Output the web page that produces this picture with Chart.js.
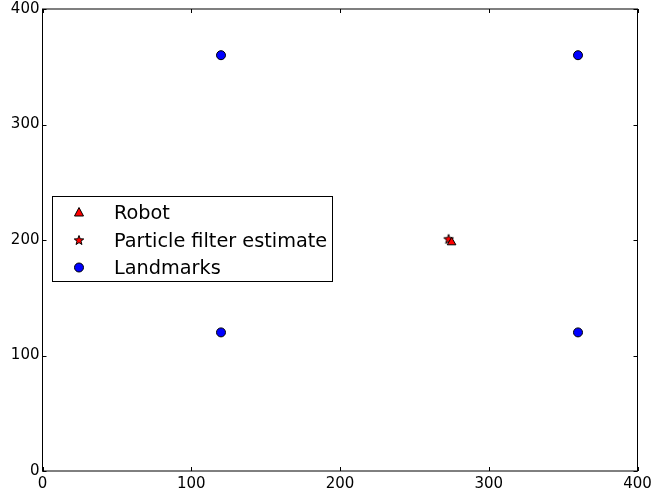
<!DOCTYPE html>
<html>
<head>
<meta charset="utf-8">
<script src="https://cdn.jsdelivr.net/npm/chart.js@4/dist/chart.umd.min.js"></script>
<style>
  html, body { margin: 0; padding: 0; background: #fff; }
  #wrap { width: 655px; height: 494px; }
</style>
</head>
<body>
<div id="wrap"><canvas id="pfChart" width="655" height="494"></canvas></div>
<script>
/* ======================================================
   DATA
====================================================== */

const robotX = [275];
const robotY = [198];
const estimateX = [273];
const estimateY = [201];
const landmarkX = [120, 120, 360, 360];
const landmarkY = [120, 360, 120, 360];
const tickValues = [0, 100, 200, 300, 400];
const legendLabels = ["Robot", "Particle filter estimate", "Landmarks"];

function toPoints(xs, ys) {
  return xs.map((x, i) => ({ x, y: ys[i] }));
}

/* ======================================================
   MARKERS
====================================================== */

function starPath(ctx, cx, cy, rOut, rIn) {
  ctx.beginPath();
  for (let i = 0; i < 10; i++) {
    const r = i % 2 === 0 ? rOut : rIn;
    const a = -Math.PI / 2 + i * Math.PI / 5;
    const px = cx + r * Math.cos(a);
    const py = cy + r * Math.sin(a);
    if (i === 0) ctx.moveTo(px, py); else ctx.lineTo(px, py);
  }
  ctx.closePath();
}

function makeStar() {
  const c = document.createElement("canvas");
  c.width = 14; c.height = 14;
  const g = c.getContext("2d");
  starPath(g, 7, 7.5, 5, 2.1);
  g.fillStyle = "#ff0000";
  g.fill();
  g.lineWidth = 1;
  g.strokeStyle = "#000";
  g.stroke();
  return c;
}

const starImg = makeStar();

function drawMarker(ctx, kind, x, y) {
  ctx.save();
  ctx.lineWidth = 1;
  ctx.strokeStyle = "#000";
  if (kind === "triangle") {
    ctx.beginPath();
    ctx.moveTo(x, y - 5);
    ctx.lineTo(x + 4.5, y + 3.5);
    ctx.lineTo(x - 4.5, y + 3.5);
    ctx.closePath();
    ctx.fillStyle = "#ff0000";
    ctx.fill(); ctx.stroke();
  } else if (kind === "star") {
    ctx.drawImage(starImg, x - 7, y - 7);
  } else {
    ctx.beginPath();
    ctx.arc(x, y, 4.5, 0, Math.PI * 2);
    ctx.fillStyle = "#0000ff";
    ctx.fill(); ctx.stroke();
  }
  ctx.restore();
}

/* ======================================================
   FRAME, INWARD TICKS, LEGEND
====================================================== */

const framePlugin = {
  id: "frame",
  afterDraw(chart) {
    const { ctx, chartArea: a, scales } = chart;
    ctx.save();
    ctx.strokeStyle = "#000";
    ctx.lineWidth = 1;
    ctx.strokeRect(a.left, a.top, a.right - a.left, a.bottom - a.top);

    ctx.beginPath();
    tickValues.forEach(v => {
      const px = Math.round(scales.x.getPixelForValue(v)) + 0.5;
      ctx.moveTo(px, a.bottom); ctx.lineTo(px, a.bottom - 4);
      ctx.moveTo(px, a.top); ctx.lineTo(px, a.top + 4);
      const py = Math.round(scales.y.getPixelForValue(v)) + 0.5;
      ctx.moveTo(a.left, py); ctx.lineTo(a.left + 4, py);
      ctx.moveTo(a.right, py); ctx.lineTo(a.right - 4, py);
    });
    ctx.stroke();

    // legend box
    const bx = 52.5, by = 196.5, bw = 280, bh = 85;
    ctx.fillStyle = "#fff";
    ctx.fillRect(bx, by, bw, bh);
    ctx.strokeRect(bx, by, bw, bh);
    const kinds = ["triangle", "star", "circle"];
    ctx.font = "19.3px 'DejaVu Sans'";
    ctx.fillStyle = "#000";
    ctx.textBaseline = "middle";
    legendLabels.forEach((label, i) => {
      const ry = 212.5 + i * 27.5;
      drawMarker(ctx, kinds[i], 79, ry);
      ctx.fillText(label, 114, ry + 1.5);
    });
    ctx.restore();
  }
};

/* ======================================================
   CHART
====================================================== */

const ticksFont = { family: "'DejaVu Sans'", size: 15 };

new Chart(document.getElementById("pfChart"), {
  type: "scatter",
  data: {
    datasets: [
      {
        label: legendLabels[0],
        data: toPoints(robotX, robotY),
        pointStyle: "triangle",
        pointRadius: 5,
        backgroundColor: "#ff0000",
        borderColor: "#000",
        borderWidth: 1
      },
      {
        label: legendLabels[1],
        data: toPoints(estimateX, estimateY),
        pointStyle: starImg,
        pointRadius: 6,
        backgroundColor: "#ff0000",
        borderColor: "#000",
        borderWidth: 1
      },
      {
        label: legendLabels[2],
        data: toPoints(landmarkX, landmarkY),
        pointStyle: "circle",
        pointRadius: 4.5,
        backgroundColor: "#0000ff",
        borderColor: "#000",
        borderWidth: 1
      }
    ]
  },
  options: {
    responsive: false,
    animation: false,
    devicePixelRatio: 1,
    layout: { padding: { top: 9, right: 17.5, left: 0, bottom: 0 } },
    plugins: {
      legend: { display: false },
      tooltip: { enabled: false }
    },
    scales: {
      x: {
        type: "linear",
        min: 0,
        max: 400,
        afterBuildTicks: s => { s.ticks = tickValues.map(v => ({ value: v })); },
        afterFit: s => { s.height = 23; s.paddingLeft = 0; s.paddingRight = 0; },
        grid: { display: false, drawTicks: false },
        border: { display: false },
        ticks: { font: ticksFont, color: "#000", padding: 4, maxRotation: 0 }
      },
      y: {
        type: "linear",
        min: 0,
        max: 400,
        afterBuildTicks: s => { s.ticks = tickValues.map(v => ({ value: v })); },
        afterFit: s => { s.width = 42.5; s.paddingTop = 0; s.paddingBottom = 0; },
        grid: { display: false, drawTicks: false },
        border: { display: false },
        ticks: { font: ticksFont, color: "#000", padding: 3 }
      }
    }
  },
  plugins: [framePlugin]
});
</script>
</body>
</html>
